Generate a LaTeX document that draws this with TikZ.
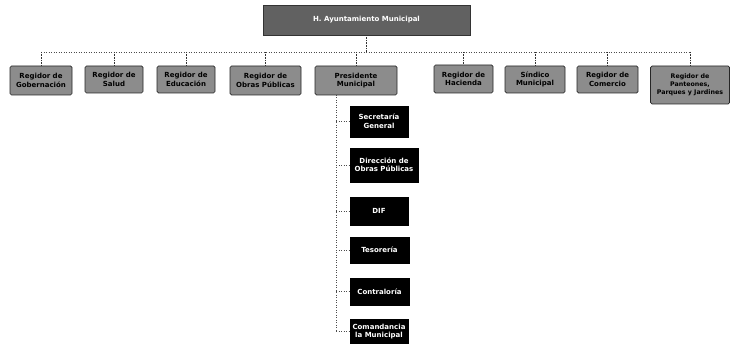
\documentclass[tikz,border=0pt]{standalone}
\usepackage{fontspec}
\setmainfont{DejaVu Sans}
\begin{document}
\begin{tikzpicture}[x=1pt,y=-1pt,
  every node/.style={font=\fontsize{7}{8.5}\selectfont\bfseries, align=center, inner sep=1pt},
  topbox/.style={draw=black!80, fill=black!62, text=white, minimum width=207pt, minimum height=30pt},
  rowbox/.style={draw=black!85, fill=black!45, text=black, rounded corners=1.5pt, line width=0.7pt},
  colbox/.style={draw=black, fill=black, text=white},
  link/.style={draw=black!70, line width=0.5pt, dotted},
  drop/.style={draw=black!80, line width=0.6pt, densely dotted}]
\useasboundingbox (0,0) rectangle (733,344);

\node[topbox] (top) at (366.5,20) {H. Ayuntamiento Municipal};

\node[rowbox, minimum width=62pt, minimum height=29pt] (r1) at (41,80.5) {Regidor de\\Gobernación};
\node[rowbox, minimum width=58pt, minimum height=27pt] (r2) at (114,79.5) {Regidor de\\Salud};
\node[rowbox, minimum width=58pt, minimum height=27pt] (r3) at (186,79.5) {Regidor de\\Educación};
\node[rowbox, minimum width=71pt, minimum height=29pt] (r4) at (265.5,80.5) {Regidor de\\Obras Públicas};
\node[rowbox, minimum width=82pt, minimum height=29pt] (r5) at (356,80.5) {Presidente\\Municipal};
\node[rowbox, minimum width=59pt, minimum height=28pt] (r6) at (463.5,79) {Regidor de\\Hacienda};
\node[rowbox, minimum width=60pt, minimum height=27pt] (r7) at (535,79.5) {Síndico\\Municipal};
\node[rowbox, minimum width=61pt, minimum height=27pt] (r8) at (607.5,79.5) {Regidor de\\Comercio};
\node[rowbox, minimum width=79pt, minimum height=38pt, inner sep=0.5pt,
      font=\fontsize{6.3}{8}\selectfont\bfseries] (r9) at (690,85) {Regidor de\\Panteones,\\Parques y Jardines};

\coordinate (hub) at (366.5,52);
\coordinate (hl) at (41,52);
\coordinate (hr) at (690,52);
\draw[link] (hl) -- (hr);
\draw[drop] (top.south) -- (hub);
\foreach \n in {r1,r2,r3,r4,r5,r6,r7,r8,r9}{
  \draw[drop] (\n.north |- hub) -- (\n.north);
}

\node[colbox, minimum width=58pt, minimum height=31pt] (c1) at (379,121.5) {Secretaría\\General};
\node[colbox, minimum width=68pt, minimum height=34pt] (c2) at (384,165) {Dirección de\\Obras Públicas};
\node[colbox, minimum width=58pt, minimum height=28pt] (c3) at (379,211) {DIF};
\node[colbox, minimum width=59pt, minimum height=26pt] (c4) at (379.5,250) {Tesorería};
\node[colbox, minimum width=59pt, minimum height=27pt] (c5) at (379.5,291.5) {Contraloría};
\node[colbox, minimum width=58pt, minimum height=25pt] (c6) at (379,331.5) {Comandancia\\la Municipal};

\coordinate (vtop) at (336,95);
\coordinate (vbot) at (336,331.5);
\draw[link] (vtop) -- (vbot);
\foreach \n in {c1,c2,c3,c4,c5,c6}{
  \draw[link] (vtop |- \n.west) -- (\n.west);
}
\end{tikzpicture}
\end{document}
